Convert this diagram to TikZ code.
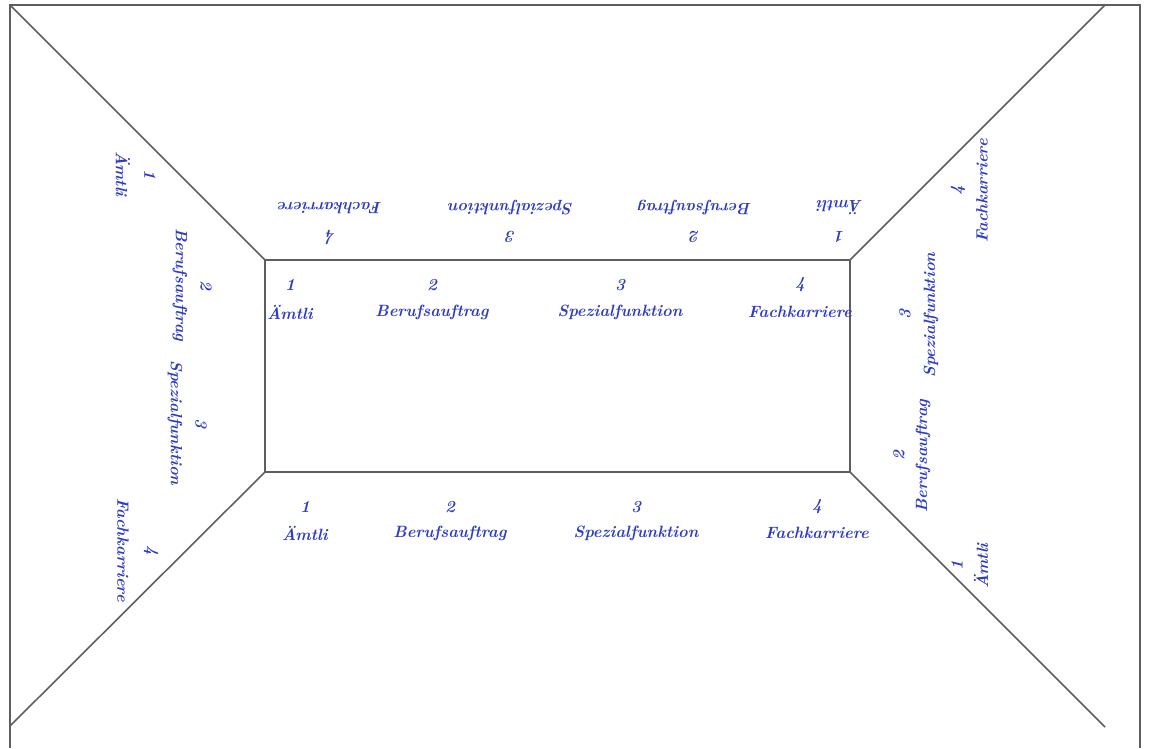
\documentclass[tikz,border=0pt]{standalone}
\usepackage{tikz}
\usepackage{xcolor}
\definecolor{skript}{HTML}{2E3CC2}
\definecolor{kantengrau}{HTML}{5E5E5E}

\begin{document}
\begin{tikzpicture}[x=0.02cm,y=-0.02cm,
  kante/.style={draw=kantengrau,line width=0.9pt},
  lbl/.style={text=skript,font=\fontsize{9.3}{11}\selectfont\bfseries\itshape,inner sep=0pt},
  num/.style={text=skript,font=\fontsize{9.6}{11}\selectfont\bfseries\itshape,inner sep=0pt}]
  \useasboundingbox (0,0) rectangle (1152,748);

  % Rahmen und Raumecken
  \coordinate (otl) at (10,5);
  \coordinate (otr) at (1140,5);
  \coordinate (obl) at (10,748);
  \coordinate (obr) at (1140,748);
  \coordinate (dtl) at (10,5);
  \coordinate (dtr) at (1105,5);
  \coordinate (dbl) at (10,726);
  \coordinate (dbr) at (1105,727);
  \coordinate (itl) at (265,260);
  \coordinate (itr) at (850,260);
  \coordinate (ibl) at (265,472);
  \coordinate (ibr) at (850,472);

  \draw[kante] (obl) -- (otl) -- (otr) -- (obr);
  \draw[kante] (itl) -- (itr) -- (ibr) -- (ibl) -- cycle;
  \draw[kante] (dtl) -- (itl);
  \draw[kante] (dtr) -- (itr);
  \draw[kante] (dbl) -- (ibl);
  \draw[kante] (dbr) -- (ibr);

  % Rueckwand
  \foreach \t/\n/\x in {Ämtli/1/290, Berufsauftrag/2/432, Spezialfunktion/3/620, Fachkarriere/4/800} {
    \node[num] (rn\n) at (\x,285) {\n};
    \node[lbl] (rl\n) at (\x,312) {\t};
  }

  % Boden
  \foreach \t/\n/\x in {Ämtli/1/305, Berufsauftrag/2/450, Spezialfunktion/3/636, Fachkarriere/4/817} {
    \node[num] (bn\n) at (\x,507) {\n};
    \node[lbl] (bl\n) at (\x,533) {\t};
  }

  % Decke
  \foreach \t/\n/\x in {Ämtli/1/840, Berufsauftrag/2/695, Spezialfunktion/3/511, Fachkarriere/4/330} {
    \node[num,rotate=180] (dn\n) at (\x,237) {\n};
    \node[lbl,rotate=180] (dl\n) at (\x,208) {\t};
  }

  % linke Wand
  \foreach \t/\n/\a/\b/\y in {Ämtli/1/150/123/174, Berufsauftrag/2/206/180/285,
                              Spezialfunktion/3/201/175/423, Fachkarriere/4/151/123/550} {
    \node[num,rotate=-90] (ln\n) at (\a,\y) {\n};
    \node[lbl,rotate=-90] (ll\n) at (\b,\y) {\t};
  }

  % rechte Wand
  \foreach \t/\n/\a/\b/\y in {Ämtli/1/957/981/566, Berufsauftrag/2/899/923/456,
                              Spezialfunktion/3/905/931/315, Fachkarriere/4/958/982/191} {
    \node[num,rotate=90] (wn\n) at (\a,\y) {\n};
    \node[lbl,rotate=90] (wl\n) at (\b,\y) {\t};
  }
\end{tikzpicture}
\end{document}
